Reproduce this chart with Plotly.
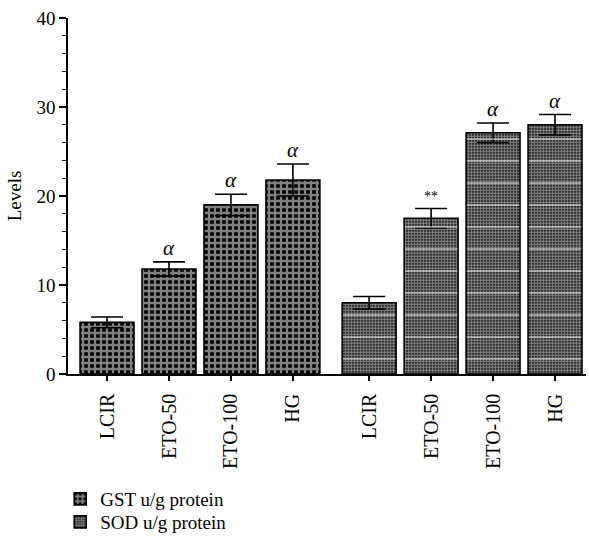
import plotly.graph_objects as go

# Treatment groups and measured enzyme levels (mean ± error)
groups = ["LCIR", "ETO-50", "ETO-100", "HG"]
gst_values = [5.8, 11.8, 19.0, 21.8]
gst_errors = [0.6, 0.8, 1.2, 1.8]
sod_values = [8.0, 17.5, 27.1, 28.0]
sod_errors = [0.7, 1.1, 1.1, 1.15]
gst_marks = ["", "α", "α", "α"]
sod_marks = ["", "**", "α", "α"]

GROUP_GAP = 0.23  # extra space between the GST and SOD blocks
gst_x = [i for i in range(len(groups))]
sod_x = [len(groups) + GROUP_GAP + i for i in range(len(groups))]

FONT = "Liberation Serif"
BAR_W = 0.87

fig = go.Figure()
fig.add_trace(go.Bar(
    x=gst_x, y=gst_values, width=BAR_W, name="GST u/g protein", legend="legend",
    error_y=dict(type="data", array=gst_errors, color="black", thickness=1.6, width=16),
    marker=dict(color="black", line=dict(color="black", width=1.6),
                pattern=dict(shape="+", fgcolor="white", bgcolor="black",
                             size=6, solidity=0.62)),
))
fig.add_trace(go.Bar(
    x=sod_x, y=sod_values, width=BAR_W, name="SOD u/g protein", legend="legend2",
    error_y=dict(type="data", array=sod_errors, color="black", thickness=1.6, width=16),
    marker=dict(color="black", line=dict(color="black", width=1.6),
                pattern=dict(shape=".", fgcolor="white", bgcolor="black",
                             size=3, solidity=0.68)),
))
# faint white banding across the SOD bars
fig.add_trace(go.Bar(
    x=sod_x, y=sod_values, width=BAR_W * 0.97, showlegend=False, hoverinfo="skip",
    marker=dict(color="rgba(0,0,0,0)", line=dict(width=0),
                pattern=dict(shape="-", fgcolor="white", bgcolor="rgba(0,0,0,0)",
                             size=22, solidity=0.08)),
))

# significance markers above the error bars
for xs, vals, errs, marks in [(gst_x, gst_values, gst_errors, gst_marks),
                              (sod_x, sod_values, sod_errors, sod_marks)]:
    for x, v, e, m in zip(xs, vals, errs, marks):
        if not m:
            continue
        is_alpha = m == "α"
        fig.add_annotation(
            x=x, y=v + e, text=f"<i>{m}</i>" if is_alpha else m,
            showarrow=False, yanchor="bottom", yshift=0 if is_alpha else 2,
            font=dict(family=FONT, size=21 if is_alpha else 14, color="black"),
        )

legend_style = dict(x=-0.015, xanchor="left", yref="container", yanchor="middle",
                    font=dict(family=FONT, size=19, color="black"),
                    bgcolor="rgba(0,0,0,0)", borderwidth=0)

fig.update_layout(
    width=589, height=537,
    margin=dict(l=68, r=3, t=18, b=163, autoexpand=False),
    plot_bgcolor="white", paper_bgcolor="white",
    font=dict(family=FONT, size=20, color="black"),
    barmode="overlay",
    showlegend=True,
    legend=dict(y=1 - 499 / 537, **legend_style),
    legend2=dict(y=1 - 522 / 537, **legend_style),
    xaxis=dict(
        tickmode="array", tickvals=gst_x + sod_x, ticktext=groups + groups,
        tickangle=-90, ticks="outside", ticklen=5, tickwidth=1.5, tickcolor="black",
        ticklabelstandoff=5, tickfont=dict(family=FONT, size=20),
        showline=True, linecolor="black", linewidth=1.5, showgrid=False, zeroline=False,
        range=[-0.63, sod_x[-1] + 0.5], automargin=False,
    ),
    yaxis=dict(
        title=dict(text="Levels", font=dict(family=FONT, size=19), standoff=10),
        range=[0, 40], tickvals=[0, 10, 20, 30, 40], tickfont=dict(family=FONT, size=19),
        ticks="outside", ticklen=7, tickwidth=1.5, tickcolor="black",
        minor=dict(dtick=2, ticks="outside", ticklen=4, tickwidth=1.2, tickcolor="black"),
        showline=True, linecolor="black", linewidth=1.5, showgrid=False, zeroline=False,
        automargin=False,
    ),
)

fig.write_html("out.html")
